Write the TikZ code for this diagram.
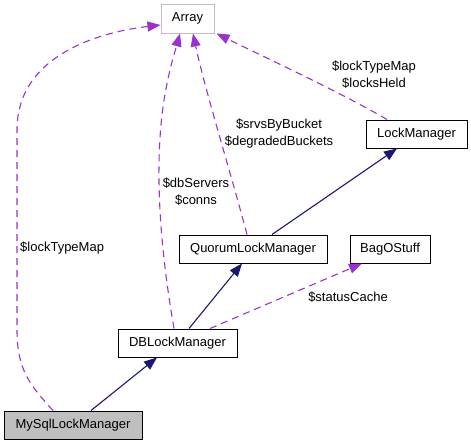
\documentclass[tikz,border=0pt]{standalone}
\usepackage{fontspec}
\setmainfont{Liberation Sans}
\usetikzlibrary{arrows.meta}
\definecolor{edgeblue}{HTML}{191970}
\definecolor{edgepurple}{HTML}{9A32CD}
\definecolor{boxgray}{HTML}{BFBFBF}
\begin{document}
\begin{tikzpicture}[x=1pt,y=-1pt,
  cls/.style={draw=black,line width=1pt,minimum height=28pt,inner sep=0pt,font=\fontsize{13}{16}\selectfont},
  lbl/.style={inner sep=0pt,align=center,font=\fontsize{13}{17}\selectfont},
  inh/.style={draw=edgeblue,line width=1.1pt,-{Triangle[length=13pt,width=10pt]}},
  use/.style={draw=edgepurple,line width=1.1pt,dash pattern=on 7pt off 5pt,-{Triangle[length=13pt,width=10pt,fill=edgepurple]}}
]
\useasboundingbox (0,0) rectangle (471,445);
\node[cls,draw=boxgray,minimum width=53pt,minimum height=29pt] (arr) at (187.5,18.5) {Array};
\node[cls,minimum width=101pt] (lm) at (416.5,134) {LockManager};
\node[cls,minimum width=148pt] (q) at (253,249) {QuorumLockManager};
\node[cls,minimum width=80pt] (bag) at (390,249) {BagOStuff};
\node[cls,minimum width=119pt] (db) at (177.5,343) {DBLockManager};
\node[cls,fill=boxgray,minimum width=138pt] (my) at (73,425) {MySqlLockManager};

% inheritance
\draw[inh] ([xshift=18pt]my.north) -- ([xshift=-20.5pt]db.south);
\draw[inh] ([xshift=11.5pt]db.north) -- ([xshift=-11pt]q.south);
\draw[inh] ([xshift=19pt]q.north) -- ([xshift=-19.5pt]lm.south);

% usage
\draw[use] ([xshift=-20pt]my.north) .. controls (30,385) and (17,370) .. (17,330)
  -- (17,130) .. controls (17,55) and (100,32) .. ([yshift=-6.5pt]arr.west);
\draw[use] ([xshift=-3.5pt]db.north) .. controls (163,265) and (154,185) .. (162,115)
  .. controls (166,80) and (174,55) .. ([xshift=-7.5pt]arr.south);
\draw[use] ([xshift=-6pt]q.north) .. controls (230,170) and (205,90) .. ([xshift=5.5pt]arr.south);
\draw[use] ([xshift=-29.5pt]lm.north) .. controls (340,92) and (262,56) .. ([xshift=2pt]arr.south east);
\draw[use] ([xshift=32.5pt]db.north) -- ([xshift=-28pt]bag.south);

% labels
\node[lbl,anchor=west] (l1) at (20,248) {\$lockTypeMap};
\node[lbl] (l2) at (196,192) {\$dbServers\\\$conns};
\node[lbl] (l3) at (279,134) {\$srvsByBucket\\\$degradedBuckets};
\node[lbl] (l4) at (374,75) {\$lockTypeMap\\\$locksHeld};
\node[lbl] (l5) at (348,297) {\$statusCache};
\end{tikzpicture}
\end{document}
